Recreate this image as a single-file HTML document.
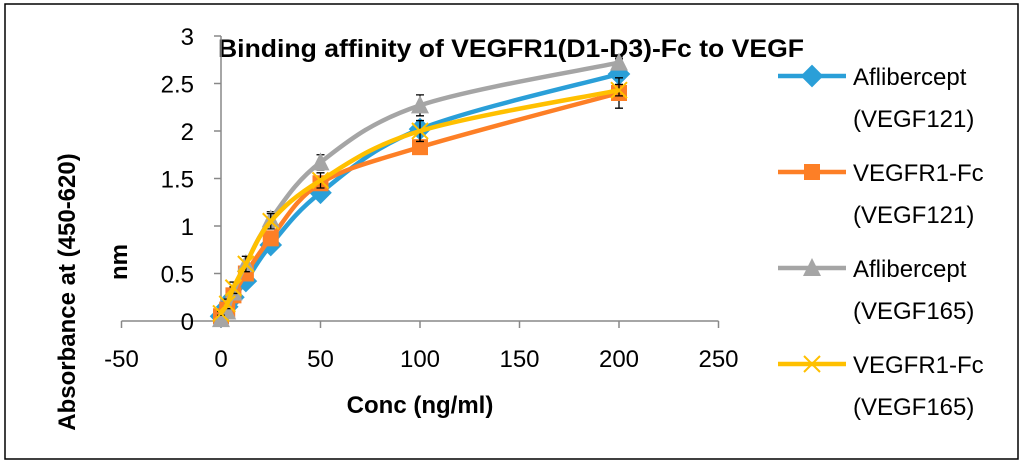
<!DOCTYPE html>
<html><head><meta charset="utf-8"><style>
body{margin:0;background:#fff;}
svg{display:block;font-family:"Liberation Sans",sans-serif;}
</style></head><body>
<svg id="c" width="1024" height="466">
<rect x="5" y="4" width="1013" height="455" fill="#fff" stroke="#000" stroke-width="1.5"/>
<text x="511" y="57" font-size="25" font-weight="bold" text-anchor="middle" textLength="586" lengthAdjust="spacingAndGlyphs">Binding affinity of VEGFR1(D1-D3)-Fc to VEGF</text>
<g id="axes"></g><g id="series"></g><g id="legend"></g>
<text x="420" y="413" font-size="24" font-weight="bold" text-anchor="middle">Conc (ng/ml)</text>
<g transform="translate(75,292) rotate(-90)"><text x="0" y="0" font-size="24" font-weight="bold" text-anchor="middle">Absorbance at (450-620)</text><text x="30" y="52" font-size="24" font-weight="bold" text-anchor="middle">nm</text></g>
</svg>
<script>
const xs=[0,3.125,6.25,12.5,25,50,100,200];
const aflib121=[0.05,0.15,0.25,0.42,0.8,1.35,2.02,2.6];
const fc121=[0.05,0.12,0.27,0.5,0.87,1.45,1.83,2.4];
const aflib165=[0.02,0.1,0.3,0.6,1.07,1.67,2.27,2.72];
const fc165=[0.08,0.18,0.35,0.6,1.05,1.48,2.0,2.43];
const err165=[0.02,0.05,0.06,0.08,0.08,0.08,0.11,0.06];
const err121=[0.02,0.04,0.05,0.06,0.06,0.06,0.05,0.16];
const xTicks=[-50,0,50,100,150,200,250];
const yTicks=[0,0.5,1,1.5,2,2.5,3];
const names=["Aflibercept|(VEGF121)","VEGFR1-Fc|(VEGF121)","Aflibercept|(VEGF165)","VEGFR1-Fc|(VEGF165)"];
const X=v=>221+(v)*1.99, Y=v=>321-v*95;
const NS="http://www.w3.org/2000/svg";
function mk(p,t,a){const e=document.createElementNS(NS,t);for(const k in a)e.setAttribute(k,a[k]);p.appendChild(e);return e;}
const ax=document.getElementById('axes');
let l=mk(ax,'line',{x1:X(-50),x2:X(250),y1:Y(0),y2:Y(0),stroke:'#888','stroke-width':1.5});

l=mk(ax,'line',{x1:X(0),x2:X(0),y1:Y(0),y2:Y(3),stroke:'#888','stroke-width':1.5});

xTicks.forEach(t=>{mk(ax,'line',{x1:X(t),x2:X(t),y1:Y(0),y2:Y(0)+7,stroke:'#888','stroke-width':1.5});
const e=mk(ax,'text',{x:X(t),y:367,'font-size':24,'text-anchor':'middle'});e.textContent=t;
});
yTicks.forEach(t=>{mk(ax,'line',{x1:X(0)-7,x2:X(0),y1:Y(t),y2:Y(t),stroke:'#888','stroke-width':1.5});
const e=mk(ax,'text',{x:194,y:Y(t)+9,'font-size':24,'text-anchor':'end'});e.textContent=t;
});
function smooth(pts){let d=`M${pts[0][0]},${pts[0][1]}`;for(let i=0;i<pts.length-1;i++){const p0=pts[i-1]||pts[i],p1=pts[i],p2=pts[i+1],p3=pts[i+2]||p2;const t=0.17;
d+=` C${p1[0]+(p2[0]-p0[0])*t},${p1[1]+(p2[1]-p0[1])*t} ${p2[0]-(p3[0]-p1[0])*t},${p2[1]-(p3[1]-p1[1])*t} ${p2[0]},${p2[1]}`;}return d;}
const cols=['#2a9fd8','#fd7f26','#a5a5a5','#ffc000'];
const data=[aflib121,fc121,aflib165,fc165];
const errs=[err121,err121,err165,err165];
const sg=document.getElementById('series');
function marker(g,k,x,y,s){if(k==0)mk(g,'rect',{x:x-s,y:y-s,width:2*s,height:2*s,fill:cols[0],transform:`rotate(45 ${x} ${y})`});
else if(k==1)mk(g,'rect',{x:x-s,y:y-s,width:2*s,height:2*s,fill:cols[1]});
else if(k==2)mk(g,'polygon',{points:`${x},${y-s-2} ${x-s-1},${y+s} ${x+s+1},${y+s}`,fill:cols[2]});
else mk(g,'path',{d:`M${x-s},${y-s}L${x+s},${y+s}M${x-s},${y+s}L${x+s},${y-s}`,stroke:cols[3],'stroke-width':2});}
data.forEach((arr,k)=>{const g=mk(sg,'g',{});
arr.forEach((v,i)=>{const e=errs[k][i];mk(g,'path',{d:`M${X(xs[i])},${Y(v-e)}V${Y(v+e)}M${X(xs[i])-4},${Y(v-e)}h8M${X(xs[i])-4},${Y(v+e)}h8`,stroke:'#000','stroke-width':1.3});});
const p=mk(g,'path',{d:smooth(arr.map((v,i)=>[X(xs[i]),Y(v)])),fill:'none',stroke:cols[k],'stroke-width':4.5});

arr.forEach((v,i)=>marker(g,k,X(xs[i]),Y(v),8));});
const lg=document.getElementById('legend');
names.forEach((n,k)=>{const y0=76+k*96;const g=mk(lg,'g',{});
mk(g,'line',{x1:778,x2:846,y1:y0,y2:y0,stroke:cols[k],'stroke-width':4.5});marker(g,k,812,y0,8);
const [a,b]=n.split('|');let t=mk(g,'text',{x:853,y:y0+9,'font-size':24});t.textContent=a;
t=mk(g,'text',{x:853,y:y0+51,'font-size':24});t.textContent=b;});
</script>
</body></html>
